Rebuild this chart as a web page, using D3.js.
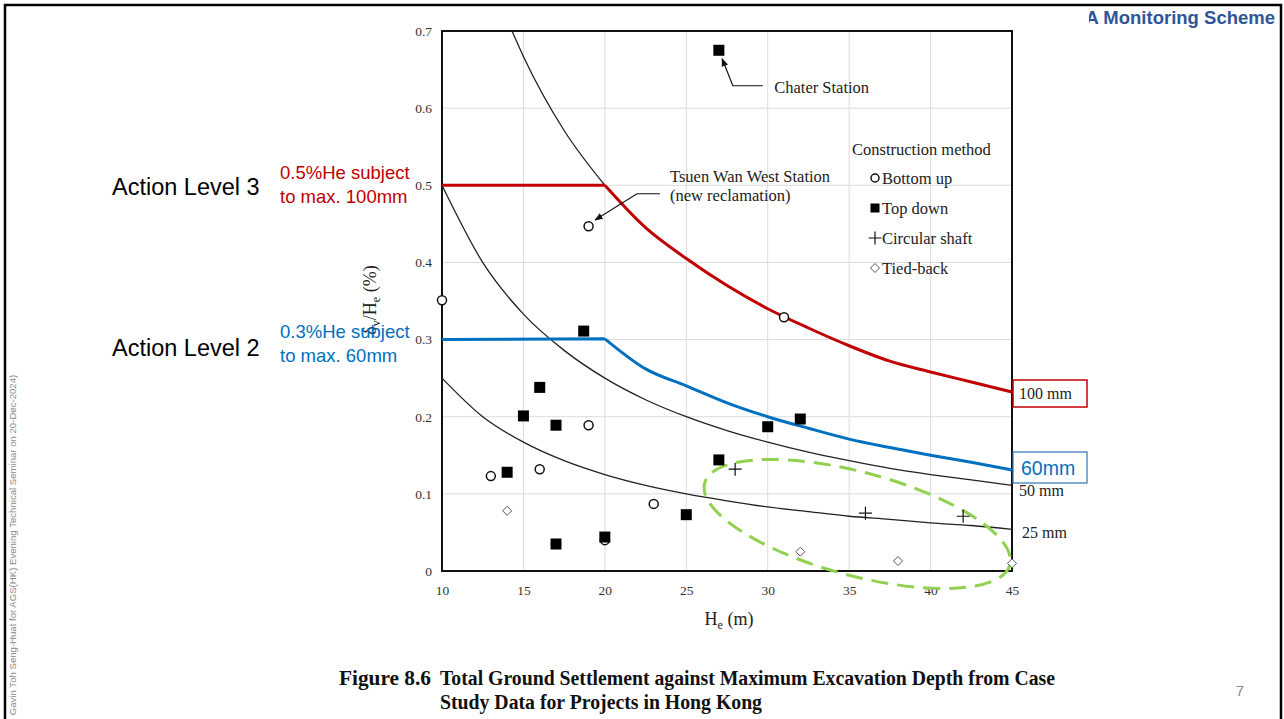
<!DOCTYPE html>
<html>
<head>
<meta charset="utf-8">
<script src="https://cdn.jsdelivr.net/npm/d3@7"></script>
<style>
  body { margin: 0; background: #fff; }
  svg text { font-family: "Liberation Serif", "Times New Roman", serif; }
  .sans { font-family: "Liberation Sans", Arial, sans-serif !important; }
</style>
</head>
<body>
<div id="chart"></div>
<script>
//  Define width and height
var chart_width     =   1284;
var chart_height    =   719;

// Data
var bottomUp        =   [ [10, 0.351], [13, 0.123], [16, 0.132], [19, 0.189], [19, 0.447],
                          [20, 0.040], [23, 0.087], [31, 0.329] ];
var topDown         =   [ [27, 0.675], [18.7, 0.311], [16, 0.238], [15, 0.201], [17, 0.189],
                          [14, 0.128], [17, 0.035], [20, 0.044], [25, 0.073], [27, 0.144],
                          [30, 0.187], [32, 0.197] ];
var circularShaft   =   [ [28, 0.132], [36, 0.075], [42, 0.071] ];
var tiedBack        =   [ [14, 0.078], [32, 0.025], [38, 0.013], [45, 0.010] ];

// constant settlement curves (He, %)
var curve25         =   [ [10, 0.25], [12.5, 0.2], [15, 0.167], [17.5, 0.143], [20, 0.125], [22.5, 0.111],
                          [25, 0.1], [27.5, 0.091], [30, 0.083], [32.5, 0.077], [35, 0.071], [37.5, 0.067],
                          [40, 0.0625], [42.5, 0.059], [45, 0.054] ];
var curve50         =   [ [10, 0.5], [12.5, 0.4], [15, 0.333], [17.5, 0.286], [20, 0.25], [22.5, 0.222],
                          [25, 0.2], [27.5, 0.182], [30, 0.167], [32.5, 0.154], [35, 0.143], [37.5, 0.133],
                          [40, 0.125], [42.5, 0.118], [45, 0.111] ];
var curve100        =   [ [14.3, 0.7], [15, 0.667], [17.5, 0.571], [20, 0.5] ];

// action levels
var level3Flat      =   [ [10, 0.5], [20, 0.5] ];
var level3Curve     =   [ [20, 0.5], [22.5, 0.445], [25, 0.405], [27.5, 0.37], [30, 0.34], [32.5, 0.315],
                          [35, 0.292], [37.5, 0.272], [40, 0.258], [42.5, 0.245], [45, 0.232] ];
var level2Flat      =   [ [10, 0.3], [20, 0.301] ];
var level2Curve     =   [ [20, 0.301], [22.5, 0.262], [25, 0.24], [27.5, 0.218], [30, 0.2], [32.5, 0.185],
                          [35, 0.171], [37.5, 0.16], [40, 0.15], [42.5, 0.141], [45, 0.131] ];

var xTicks          =   [10, 15, 20, 25, 30, 35, 40, 45];
var yTicks          =   [0, 0.1, 0.2, 0.3, 0.4, 0.5, 0.6, 0.7];
var yTickLabels     =   ["0", "0.1", "0.2", "0.3", "0.4", "0.5", "0.6", "0.7"];

var legendItems     =   ["Bottom up", "Top down", "Circular shaft", "Tied-back"];

// Scales
var x               =   d3.scaleLinear().domain([10, 45]).range([442, 1012]);
var y               =   d3.scaleLinear().domain([0, 0.7]).range([571, 31]);

// Create SVG
var svg             =   d3.select("#chart")
    .append("svg")
    .attr("width", chart_width)
    .attr("height", chart_height);

svg.append("defs").append("marker")
    .attr("id", "arrow")
    .attr("viewBox", "0 0 10 10")
    .attr("refX", 9).attr("refY", 5)
    .attr("markerWidth", 7).attr("markerHeight", 7)
    .attr("orient", "auto")
    .append("path")
    .attr("d", "M0,1 L10,5 L0,9 z")
    .attr("fill", "#111");

svg.select("defs").append("clipPath")
    .attr("id", "hdrclip")
    .append("rect")
    .attr("x", 1089).attr("y", 0).attr("width", 200).attr("height", 40);

// slide frame
svg.append("rect")
    .attr("x", 5).attr("y", 5)
    .attr("width", 1276).attr("height", 730)
    .attr("fill", "none")
    .attr("stroke", "#000")
    .attr("stroke-width", 2.5);

svg.append("text")
    .attr("class", "sans")
    .attr("clip-path", "url(#hdrclip)")
    .attr("x", 1275).attr("y", 24)
    .attr("text-anchor", "end")
    .attr("font-size", 18.5)
    .attr("font-weight", "bold")
    .attr("fill", "#2f5597")
    .text("A Monitoring Scheme");

svg.append("text")
    .attr("class", "sans")
    .attr("transform", "translate(16,545) rotate(-90)")
    .attr("text-anchor", "middle")
    .attr("font-size", 9.6)
    .attr("fill", "#8a8a8a")
    .text("Gavin Toh Seng-Huat for AGS(HK) Evening Technical Seminar on 20-Dec-2024)");

svg.append("text")
    .attr("class", "sans")
    .attr("x", 1240).attr("y", 696)
    .attr("text-anchor", "middle")
    .attr("font-size", 15)
    .attr("fill", "#888")
    .text("7");

// Grid
var grid            =   svg.append("g").attr("class", "grid");
grid.selectAll("line.gx")
    .data(xTicks)
    .enter().append("line")
    .attr("x1", d => x(d)).attr("x2", d => x(d))
    .attr("y1", y(0)).attr("y2", y(0.7))
    .attr("stroke", "#dcdcdc").attr("stroke-width", 1);
grid.selectAll("line.gy")
    .data(yTicks)
    .enter().append("line")
    .attr("y1", d => y(d)).attr("y2", d => y(d))
    .attr("x1", x(10)).attr("x2", x(45))
    .attr("stroke", "#dcdcdc").attr("stroke-width", 1);

// Axes
var xAxis           =   svg.append("g")
    .attr("transform", "translate(0," + y(0) + ")")
    .call(d3.axisBottom(x).tickValues(xTicks).tickSize(0).tickPadding(14).tickFormat(d3.format("d")));
var yAxis           =   svg.append("g")
    .attr("transform", "translate(" + x(10) + ",0)")
    .call(d3.axisLeft(y).tickValues(yTicks).tickSize(0).tickPadding(10)
        .tickFormat((d, i) => yTickLabels[i]));
[xAxis, yAxis].forEach(function(a){
    a.select(".domain").remove();
    a.selectAll("text")
        .attr("font-family", "Liberation Serif, serif")
        .attr("font-size", 13.5)
        .attr("fill", "#333");
});

svg.append("rect")
    .attr("x", x(10)).attr("y", y(0.7))
    .attr("width", x(45) - x(10)).attr("height", y(0) - y(0.7))
    .attr("fill", "none")
    .attr("stroke", "#111")
    .attr("stroke-width", 2);

// Axis titles
var xt = svg.append("text")
    .attr("x", 729).attr("y", 625)
    .attr("text-anchor", "middle")
    .attr("font-size", 18)
    .attr("fill", "#222");
xt.append("tspan").text("H");
xt.append("tspan").attr("font-size", 12).attr("dy", 4).text("e");
xt.append("tspan").attr("dy", -4).text(" (m)");

var yt = svg.append("text")
    .attr("transform", "translate(376,300) rotate(-90)")
    .attr("text-anchor", "middle")
    .attr("font-size", 18)
    .attr("fill", "#222");
yt.append("tspan").text("δ");
yt.append("tspan").attr("font-size", 12).attr("dy", 4).text("v");
yt.append("tspan").attr("dy", -4).text("/H");
yt.append("tspan").attr("font-size", 12).attr("dy", 4).text("e");
yt.append("tspan").attr("dy", -4).text(" (%)");

// Lines
var line            =   d3.line().x(d => x(d[0])).y(d => y(d[1])).curve(d3.curveMonotoneX);
var straight        =   d3.line().x(d => x(d[0])).y(d => y(d[1]));

[curve25, curve50, curve100].forEach(function(c){
    svg.append("path")
        .datum(c)
        .attr("d", line)
        .attr("fill", "none")
        .attr("stroke", "#222")
        .attr("stroke-width", 1.3);
});

[[level3Flat, level3Curve, "#c00000"], [level2Flat, level2Curve, "#0070c0"]].forEach(function(l){
    svg.append("path")
        .attr("d", straight(l[0]) + line(l[1]))
        .attr("fill", "none")
        .attr("stroke", l[2])
        .attr("stroke-width", 3)
        .attr("stroke-linejoin", "round");
});

// Green ellipse
svg.append("ellipse")
    .attr("cx", x(35.5)).attr("cy", y(0.061))
    .attr("rx", x(35.5 + 9.7) - x(35.5))
    .attr("ry", y(0) - y(0.067))
    .attr("transform", "rotate(15," + x(35.5) + "," + y(0.061) + ")")
    .attr("fill", "none")
    .attr("stroke", "#92d050")
    .attr("stroke-width", 3)
    .attr("stroke-dasharray", "17,9");

// Markers
function drawCircle(g, d, cx, cy) {
    g.append("circle").attr("cx", cx).attr("cy", cy).attr("r", 4.5)
        .attr("fill", "#fff").attr("stroke", "#111").attr("stroke-width", 1.5);
}
function drawSquare(g, d, cx, cy) {
    g.append("rect").attr("x", cx - 5.5).attr("y", cy - 5.5).attr("width", 11).attr("height", 11)
        .attr("fill", "#000");
}
function drawPlus(g, d, cx, cy) {
    g.append("path").attr("d", "M" + (cx - 6.5) + "," + cy + "h13M" + cx + "," + (cy - 6.5) + "v13")
        .attr("stroke", "#111").attr("stroke-width", 1.2);
}
function drawDiamond(g, d, cx, cy) {
    g.append("path").attr("d", "M" + cx + "," + (cy - 4.5) + "l4.5,4.5l-4.5,4.5l-4.5,-4.5z")
        .attr("fill", "#fff").attr("stroke", "#555").attr("stroke-width", 1);
}

var marks           =   svg.append("g");
[[bottomUp, drawCircle], [topDown, drawSquare], [circularShaft, drawPlus], [tiedBack, drawDiamond]]
    .forEach(function(s){
        s[0].forEach(function(d){ s[1](marks, d, x(d[0]), y(d[1])); });
    });

// Annotations
var chaterLeader    =   [ [29.7, 0.629], [27.86, 0.629], [27.2, 0.664] ];
var tsuenLeader     =   [ [23.38, 0.489], [21.97, 0.489], [19.4, 0.455] ];
[chaterLeader, tsuenLeader].forEach(function(p){
    svg.append("path")
        .attr("d", straight(p))
        .attr("fill", "none")
        .attr("stroke", "#111")
        .attr("stroke-width", 1.2)
        .attr("marker-end", "url(#arrow)");
});
svg.append("text").attr("x", x(30.4)).attr("y", y(0.620))
    .attr("font-size", 16.5).attr("fill", "#222").text("Chater Station");
svg.append("text").attr("x", x(24)).attr("y", y(0.504))
    .attr("font-size", 16.5).attr("fill", "#222").text("Tsuen Wan West Station");
svg.append("text").attr("x", x(24)).attr("y", y(0.480))
    .attr("font-size", 16.5).attr("fill", "#222").text("(new reclamation)");

// Legend
var legend          =   svg.append("g").attr("transform", "translate(852,155)");
legend.append("text").attr("x", 0).attr("y", 0)
    .attr("font-size", 16.5).attr("fill", "#222").text("Construction method");
var legendDraw      =   [drawCircle, drawSquare, drawPlus, drawDiamond];
legendItems.forEach(function(t, i){
    var cy = 23 + i * 30;
    legendDraw[i](legend, null, 23, cy);
    legend.append("text").attr("x", 30).attr("y", cy + 5.5)
        .attr("font-size", 16.5).attr("fill", "#222").text(t);
});
legend.selectAll("circle").attr("r", 4);
legend.selectAll("rect").attr("width", 9).attr("height", 9).attr("x", 18.5).attr("y", 23 + 30 - 4.5);

// Right-side curve labels
svg.append("rect").attr("x", 1013).attr("y", 380).attr("width", 74).attr("height", 27)
    .attr("fill", "#fff").attr("stroke", "#c00000").attr("stroke-width", 1.5);
svg.append("text").attr("x", 1019).attr("y", 399)
    .attr("font-size", 16).attr("fill", "#222").text("100 mm");
svg.append("rect").attr("x", 1013).attr("y", 452).attr("width", 74).attr("height", 31)
    .attr("fill", "#fff").attr("stroke", "#2e75b6").attr("stroke-width", 1.2);
svg.append("text").attr("class", "sans").attr("x", 1021).attr("y", 475)
    .attr("font-size", 19.5).attr("fill", "#0070c0").text("60mm");
svg.append("text").attr("x", 1019).attr("y", 496)
    .attr("font-size", 16).attr("fill", "#222").text("50 mm");
svg.append("text").attr("x", 1022).attr("y", 538)
    .attr("font-size", 16).attr("fill", "#222").text("25 mm");

// Action level notes
var notes           =   [
    { title: "Action Level 3", lines: ["0.5%He subject", "to max. 100mm"], color: "#c00000", ty: 195, ly: 179 },
    { title: "Action Level 2", lines: ["0.3%He subject", "to max. 60mm"],  color: "#0070c0", ty: 356, ly: 338 }
];
notes.forEach(function(n){
    svg.append("text").attr("class", "sans").attr("x", 112).attr("y", n.ty)
        .attr("font-size", 23.5).attr("fill", "#000").text(n.title);
    n.lines.forEach(function(t, i){
        svg.append("text").attr("class", "sans").attr("x", 280).attr("y", n.ly + i * 23.5)
            .attr("font-size", 18.5).attr("fill", n.color).text(t);
    });
});

// Caption
var cap             =   svg.append("g").attr("font-weight", "bold").attr("fill", "#111");
cap.append("text").attr("x", 339).attr("y", 685).attr("font-size", 20)
    .attr("textLength", 92).attr("lengthAdjust", "spacingAndGlyphs").text("Figure 8.6");
cap.append("text").attr("x", 440).attr("y", 685).attr("font-size", 20)
    .attr("textLength", 615).attr("lengthAdjust", "spacingAndGlyphs")
    .text("Total Ground Settlement against Maximum Excavation Depth from Case");
cap.append("text").attr("x", 440).attr("y", 709).attr("font-size", 20)
    .attr("textLength", 322).attr("lengthAdjust", "spacingAndGlyphs")
    .text("Study Data for Projects in Hong Kong");
</script>
</body>
</html>
